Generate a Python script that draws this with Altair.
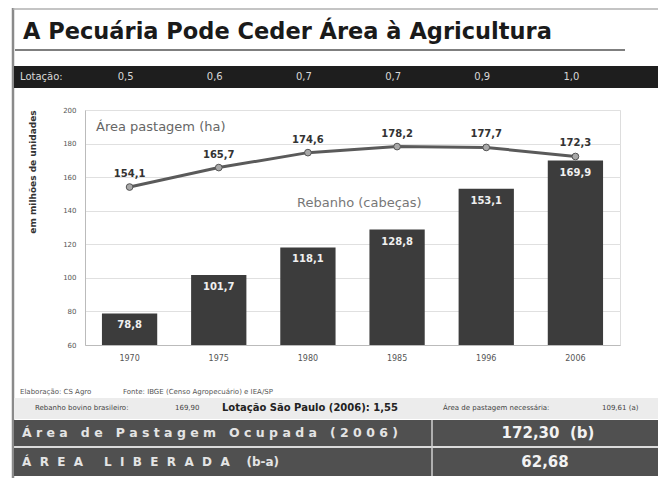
import altair as alt
import pandas as pd

# ---------------- data ----------------
years = ["1970", "1975", "1980", "1985", "1996", "2006"]
rebanho = [78.8, 101.7, 118.1, 128.8, 153.1, 169.9]          # bars (cabeças, milhões)
pastagem = [154.1, 165.7, 174.6, 178.2, 177.7, 172.3]        # line (ha, milhões)
lotacao = [0.5, 0.6, 0.7, 0.7, 0.9, 1.0]
y_ticks = [60, 80, 100, 120, 140, 160, 180, 200]

NB = "\u00a0"
title_text = "A Pecuária Pode Ceder Área à Agricultura"
footer_elab = "Elaboração: CS Agro"
footer_fonte = "Fonte: IBGE (Censo Agropecuário) e IEA/SP"
rebanho_br_label = "Rebanho bovino brasileiro:"
rebanho_br_value = "169,90"
lotacao_sp = "Lotação São Paulo (2006): 1,55"
area_nec_label = "Área de pastagem necessária:"
area_nec_value = "109,61 (a)"
area_ocup_words = ["Área", "de", "Pastagem", "Ocupada", "(2006)"]
area_ocup_value = "172,30" + NB * 2 + "(b)"
area_lib_words = ["ÁREA", "LIBERADA"]
area_lib_suffix = "(b-a)"
area_lib_value = "62,68"


def br(v, d=1):
    return f"{v:.{d}f}".replace(".", ",")


def spaced(words, gap=1, wgap=3):
    return (NB * wgap).join((NB * gap).join(list(w)) for w in words)


area_ocup_label = spaced(area_ocup_words)
area_lib_label = spaced(area_lib_words, 2, 5) + NB * 4 + area_lib_suffix

df = pd.DataFrame({
    "ano": years,
    "rebanho": rebanho,
    "pastagem": pastagem,
    "lotacao": lotacao,
    "reb_lbl": [br(v) for v in rebanho],
    "pas_lbl": [br(v) for v in pastagem],
    "lot_lbl": [br(v) for v in lotacao],
})
one = pd.DataFrame({"k": [0]})

FONT = "DejaVu Sans"

x = alt.X("ano:N", sort=years, title=None,
          scale=alt.Scale(paddingInner=0.38, paddingOuter=0.19),
          axis=alt.Axis(labelAngle=0, ticks=False, labelPadding=9, labelFontSize=8,
                        labelColor="#555", domainColor="#bbb", labelFont=FONT))
yscale = alt.Scale(domain=[60, 200], nice=False, zero=False)
yaxis = alt.Axis(values=y_ticks, ticks=False, labelPadding=9, labelFontSize=7,
                 labelColor="#555", gridColor="#e0e0e0", domainColor="#bbb",
                 labelFont=FONT, labelOverlap=False)


def Y(field):
    return alt.Y(field, scale=yscale, title=None, axis=yaxis)


base = alt.Chart(df)

bars = base.mark_bar(color="#3c3c3c").encode(x=x, y=Y("rebanho:Q"), y2=alt.datum(60))
bar_labels = base.mark_text(color="#f0f0f0", fontSize=10, fontWeight="bold", font=FONT,
                            baseline="middle", dy=12).encode(
    x=x, y=Y("rebanho:Q"), text="reb_lbl:N")

line = base.mark_line(color="#5a5a5a", strokeWidth=3).encode(x=x, y=Y("pastagem:Q"))
points = base.mark_point(filled=True, size=45, fill="#a8a8a8", stroke="#555",
                         strokeWidth=1, opacity=1).encode(x=x, y=Y("pastagem:Q"))
line_labels = base.mark_text(color="#333", fontSize=10, fontWeight="bold", font=FONT,
                             baseline="bottom", dy=-8).encode(
    x=x, y=Y("pastagem:Q"), text="pas_lbl:N")


def rect(x1, x2, y1, y2, color):
    return alt.Chart(one).mark_rect(color=color).encode(
        x=alt.value(x1), x2=alt.value(x2), y=alt.value(y1), y2=alt.value(y2))


def hrule(x1, x2, yy, color, w):
    return alt.Chart(one).mark_rule(color=color, strokeWidth=w).encode(
        x=alt.value(x1), x2=alt.value(x2), y=alt.value(yy))


def vrule(xx, y1, y2, color, w):
    return alt.Chart(one).mark_rule(color=color, strokeWidth=w).encode(
        x=alt.value(xx), y=alt.value(y1), y2=alt.value(y2))


def txt(s, xx, yy, size, color, weight="normal", align="left", angle=0, font=FONT):
    kw = dict(text=s, fontSize=size, color=color, fontWeight=weight, align=align,
              baseline="middle", font=font)
    if angle:
        kw["angle"] = angle
    return alt.Chart(one).mark_text(**kw).encode(x=alt.value(xx), y=alt.value(yy))


# plot origin is at page (85, 110)
deco = [
    vrule(-72, -102, 368, "#8a8a8a", 2.5),
    hrule(-72, 573, -101, "#b0b0b0", 1.5),
    txt(title_text, -62, -78, 22.5, "#1a1a1a", "bold"),
    hrule(-70, 540, -60, "#555", 1.5),
    rect(-71, 573, -44, -22, "#1e1e1e"),
    txt("Lotação:", -65, -33, 10, "#d8d8d8"),
    txt("em milhões de unidades", -52, 62, 9, "#333", "bold", "center", 270),
    txt("Área pastagem (ha)", 11, 17, 13, "#666"),
    txt("Rebanho (cabeças)", 212, 93, 13, "#777"),
    txt(footer_elab, -65, 282, 7, "#555"),
    txt(footer_fonte, 38, 282, 7, "#555"),
    rect(-71, 573, 288, 309, "#ececec"),
    txt(rebanho_br_label, -50, 298, 7, "#444"),
    txt(rebanho_br_value, 90, 298, 7, "#444"),
    txt(lotacao_sp, 137, 298, 10, "#222", "bold"),
    txt(area_nec_label, 358, 298, 7, "#444"),
    txt(area_nec_value, 517, 298, 7, "#444"),
    rect(-71, 573, 310, 336, "#505050"),
    rect(-71, 573, 338, 366, "#505050"),
    hrule(-71, 573, 337, "#cfcfcf", 1.5),
    vrule(347, 310, 366, "#cfcfcf", 1.5),
    txt(area_ocup_label, -63, 323, 12.5, "#e4e4e4", "bold"),
    txt(area_ocup_value, 463, 323, 15, "#f2f2f2", "bold", "center"),
    txt(area_lib_label, -63, 352, 12, "#e4e4e4", "bold"),
    txt(area_lib_value, 460, 352, 15, "#f2f2f2", "bold", "center"),
]

lot_text = base.mark_text(color="#d8d8d8", fontSize=10, font=FONT, baseline="middle",
                          dx=-4).encode(x=x, y=alt.value(-33), text="lot_lbl:N")

chart = alt.layer(
    bars, line, points, bar_labels, line_labels, *deco, lot_text
).properties(
    width=535, height=235,
    autosize=alt.AutoSizeParams(type="none"),
    padding={"left": 85, "top": 110, "right": 38, "bottom": 133},
    background="white",
).configure_view(stroke="#dddddd")

chart.save("out.html", embed_options={"renderer": "svg", "actions": False})
